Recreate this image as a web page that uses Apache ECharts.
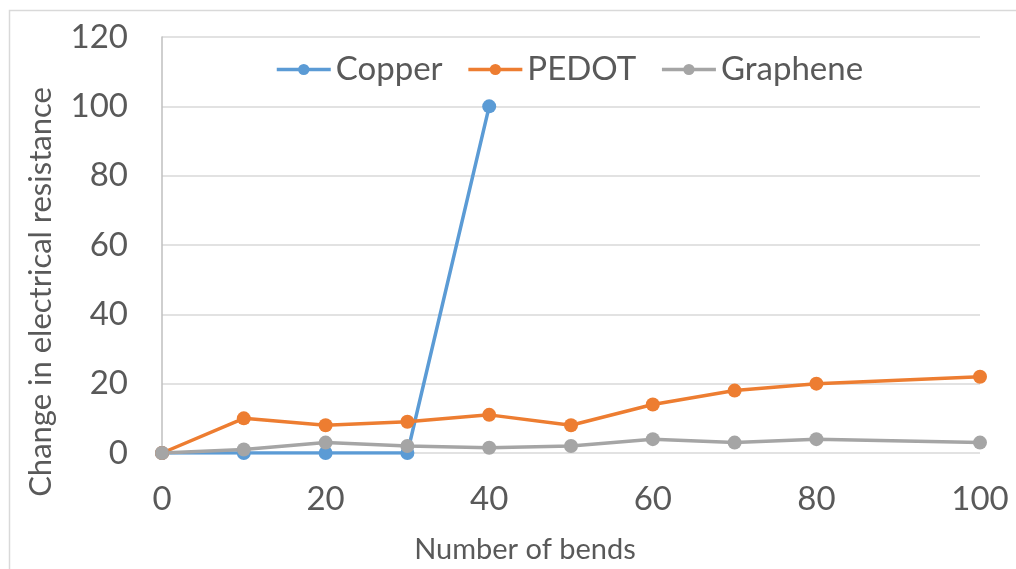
<!DOCTYPE html>
<html><head><meta charset="utf-8">
<script src="https://cdn.jsdelivr.net/npm/echarts@6/dist/echarts.min.js"></script>
<style>html,body{margin:0;padding:0;background:#fff}#c{width:1016px;height:569px}</style>
</head><body><div id="c"></div>
<script>
const bends = [0, 10, 20, 30, 40, 50, 60, 70, 80, 100];
const copper = [0, 0, 0, 0, 100];
const pedot = [0, 10, 8, 9, 11, 8, 14, 18, 20, 22];
const graphene = [0, 1, 3, 2, 1.5, 2, 4, 3, 4, 3];
const seriesNames = ['Copper', 'PEDOT', 'Graphene'];
const colors = ['#5B9BD5', '#ED7D31', '#A5A5A5'];
const FONT = 'Lato';
const pair = (vals) => vals.map((v, i) => [bends[i], v]);
const chart = echarts.init(document.getElementById('c'), null, {renderer: 'canvas'});
const mk = (name, vals, color) => ({
  name, type: 'line', data: pair(vals), symbol: 'circle', symbolSize: 14,
  lineStyle: {width: 3.5, color}, itemStyle: {color}, z: 3
});
chart.setOption({
  animation: false,
  textStyle: {fontFamily: FONT},
  graphic: [{type: 'rect', left: 7, top: 8, shape: {width: 1030, height: 620},
    style: {fill: 'none', stroke: '#d9d9d9', lineWidth: 1.5}, silent: true}],
  legend: {
    data: seriesNames, top: 48, left: 270,
    itemWidth: 54, itemHeight: 14, itemGap: 24,
    lineStyle: {width: 3.5},
    textStyle: {fontSize: 33, color: '#595959', fontFamily: FONT}
  },
  grid: {left: 162, right: 36, top: 37, bottom: 116},
  xAxis: {
    type: 'value', min: 0, max: 100, interval: 20,
    name: 'Number of bends', nameLocation: 'middle', nameGap: 82,
    nameTextStyle: {fontSize: 29, color: '#595959', padding: [0, 92, 0, 0]},
    axisLine: {show: false}, axisTick: {show: false}, splitLine: {show: false},
    axisLabel: {fontSize: 33, color: '#595959', margin: 30}
  },
  yAxis: {
    type: 'value', min: 0, max: 120, interval: 20,
    name: 'Change in electrical resistance', nameLocation: 'middle', nameGap: 106,
    nameTextStyle: {fontSize: 31, color: '#595959', padding: [0, 94, 0, 0]},
    axisLine: {show: true, lineStyle: {color: '#bfbfbf', width: 1.5}},
    axisTick: {show: false},
    splitLine: {show: true, lineStyle: {color: '#d9d9d9', width: 1.5}},
    axisLabel: {fontSize: 33, color: '#595959', margin: 34}
  },
  series: [mk('Copper', copper, colors[0]), mk('PEDOT', pedot, colors[1]), mk('Graphene', graphene, colors[2])]
});
</script></body></html>
